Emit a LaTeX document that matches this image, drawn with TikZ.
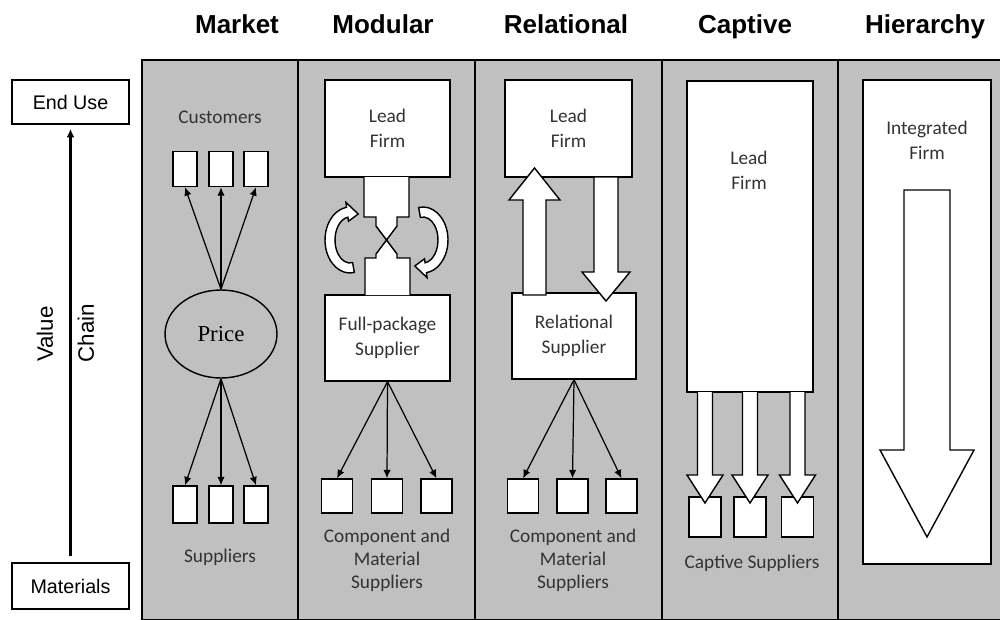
\documentclass[tikz,border=0pt]{standalone}
\usepackage{fontspec}
\setmainfont{Liberation Sans}
\newfontfamily\calibfont{Carlito}
\newfontfamily\pricefont{Liberation Serif}
\usepackage{xcolor}
\usetikzlibrary{positioning,arrows.meta,shapes.geometric}
\definecolor{panelgray}{RGB}{192,192,192}

\begin{document}
\begin{tikzpicture}[x=0.02cm, y=-0.02cm,
  ttl/.style={font=\bfseries\fontsize{14.8}{17}\selectfont, anchor=base},
  endbox/.style={draw, line width=0.8pt, minimum width=2.34cm, minimum height=0.88cm,
                 font=\fontsize{11.2}{13}\selectfont},
  vc/.style={rotate=90, font=\fontsize{12.7}{14}\selectfont},
  lab/.style={font=\calibfont\fontsize{11}{14.2}\selectfont, align=center, text=black!80},
  foot/.style={lab, font=\calibfont\fontsize{11}{13}\selectfont},
  wb/.style={draw, fill=white, line width=0.8pt, inner sep=0pt},
  ar/.style={-{Latex[length=4.8pt,width=4.2pt]}, line width=0.7pt},
  blk/.style={draw, fill=white, line width=0.8pt, line join=miter},
  cyc/.pic={
    \draw[blk] (80:25 and 33) arc[start angle=80, end angle=262, x radius=25, y radius=33]
      -- (262:29 and 38) -- (292:22 and 28) -- (262:11 and 19) -- (262:15 and 23)
      arc[start angle=262, end angle=80, x radius=15, y radius=23] -- cycle;
  }]
\useasboundingbox (0,0) rectangle (1000,619);

% ---- gray panels ---------------------------------------------------------
\draw[fill=panelgray, line width=0.8pt] (142,60) rectangle (1001,620);
\foreach \x in {298,475,662,838}
  \draw[line width=0.8pt] (\x,60) -- (\x,619);

\node[ttl] (tmarket) at (237,33) {Market};
\node[ttl] (tmodular) at (383,33) {Modular};
\node[ttl] (trelational) at (566,33) {Relational};
\node[ttl] (tcaptive) at (745,33) {Captive};
\node[ttl] (thierarchy) at (925,33) {Hierarchy};

% ---- value chain axis ----------------------------------------------------
\node[endbox] (enduse) at (70.5,102) {End Use};
\node[endbox, minimum height=0.92cm] (materials) at (70.5,586) {Materials};
\draw[-{Latex[length=5pt,width=4.5pt]}, line width=1.5pt,
      shorten <=0.12cm, shorten >=0.08cm] (materials) -- (enduse);
\node[vc] (value) at (45,334) {Value};
\node[vc] (chain) at (86,333) {Chain};

% ---- market --------------------------------------------------------------
\node[lab] (cust) at (220,117) {Customers};
\node[draw, ellipse, line width=0.8pt, minimum width=2.24cm, minimum height=1.76cm,
      font=\pricefont\fontsize{13}{15}\selectfont] (price) at (221,334) {Price};
\foreach \x [count=\i] in {185,221,256} {
  \node[wb, minimum width=0.48cm, minimum height=0.7cm] (c\i) at (\x,169) {};
  \node[wb, minimum width=0.48cm, minimum height=0.74cm] (s\i) at (\x,504.5) {};
  \draw[ar] (price.north) -- (c\i.south);
  \draw[ar] (price.south) -- (s\i.north);
}
\node[lab] (supp) at (220,557) {Suppliers};

% ---- modular -------------------------------------------------------------
\node[wb, lab, minimum width=2.5cm, minimum height=1.94cm] (mlead) at (387.5,128.5) {Lead\\Firm};
\node[wb, lab, minimum width=2.5cm, minimum height=1.72cm] (fullpkg) at (387.5,338) {Full-package\\Supplier};
\draw[blk] (364,177) -- (364,217) -- (376,217) -- (376,226) -- (386.5,240)
  -- (397,226) -- (397,217) -- (409,217) -- (409,177);
\draw[blk] (365,295) -- (365,258) -- (376,258) -- (376,254) -- (386.5,240)
  -- (397,254) -- (397,258) -- (410,258) -- (410,295);
\pic at (350,240) {cyc};
\pic[rotate=180] at (423,240) {cyc};
\foreach \x [count=\i] in {337,387,436.5} {
  \node[wb, minimum width=0.62cm, minimum height=0.68cm] (m\i) at (\x,496) {};
  \draw[ar] (fullpkg.south) -- (m\i.north);
}
\node[foot] (mcomp) at (387,560) {Component and\\Material\\Suppliers};

% ---- relational ----------------------------------------------------------
\node[wb, lab, minimum width=2.54cm, minimum height=1.94cm] (rlead) at (568.5,128.5) {Lead\\Firm};
\node[wb, lab, minimum width=2.48cm, minimum height=1.72cm] (rsupp) at (574,336) {Relational\\Supplier};
\draw[blk] (523,295) -- (523,200) -- (509,200) -- (534.5,168) -- (560,200)
  -- (546,200) -- (546,295) -- cycle;
\draw[blk] (594,177) -- (594,272) -- (582,272) -- (606,301) -- (630,272)
  -- (618,272) -- (618,177) -- cycle;
\foreach \x [count=\i] in {523,572.5,621.5} {
  \node[wb, minimum width=0.62cm, minimum height=0.68cm] (r\i) at (\x,496) {};
  \draw[ar] (rsupp.south) -- (r\i.north);
}
\node[foot] (rcomp) at (573,560) {Component and\\Material\\Suppliers};

% ---- captive -------------------------------------------------------------
\node[wb, minimum width=2.52cm, minimum height=6.22cm] (clead) at (750,236.5) {};
\node[lab] (cleadtxt) at (749,170) {Lead\\Firm};
\foreach \x [count=\i] in {705,750,797.5} {
  \node[wb, minimum width=0.64cm, minimum height=0.8cm] (k\i) at (\x,517) {};
  \draw[blk] (\x-7.5,392) -- (\x-7.5,475) -- (\x-18,475) -- (\x,503)
    -- (\x+18,475) -- (\x+7.5,475) -- (\x+7.5,392);
}
\node[lab] (capsupp) at (752,563) {Captive Suppliers};

% ---- hierarchy -----------------------------------------------------------
\node[wb, minimum width=2.56cm, minimum height=9.68cm] (integ) at (927,322) {};
\node[lab] (integtxt) at (927,140) {Integrated\\Firm};
\draw[blk] (904,190) -- (904,450) -- (880,450) -- (927,537) -- (974,450)
  -- (950,450) -- (950,190) -- cycle;

\end{tikzpicture}
\end{document}
